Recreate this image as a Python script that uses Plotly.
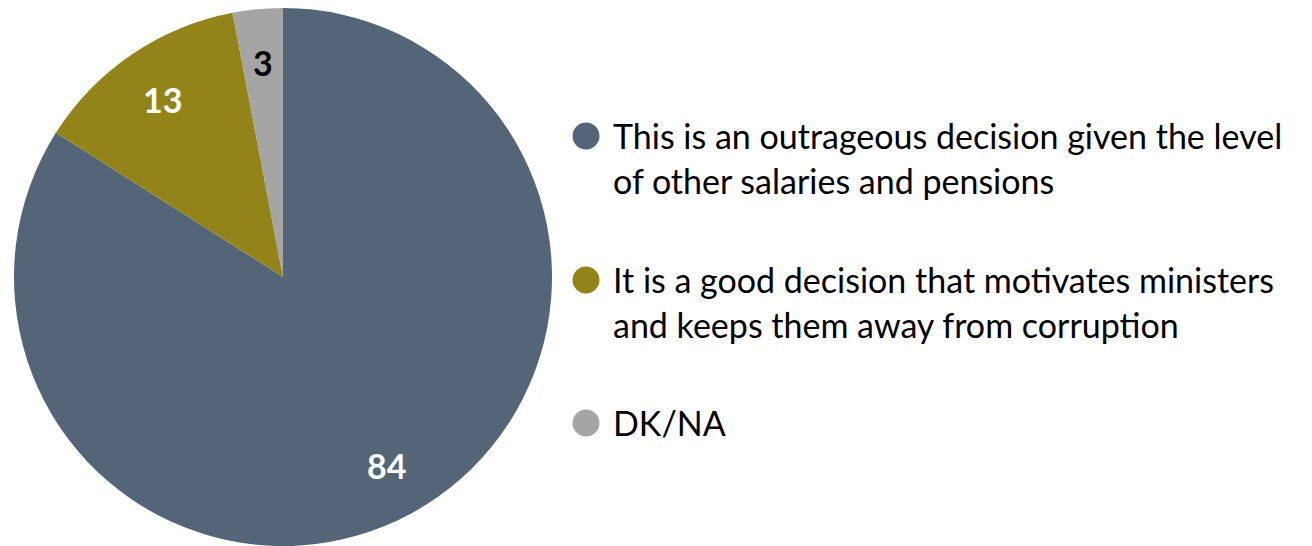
import math
import plotly.graph_objects as go

categories = [
    "This is an outrageous decision given the level of other salaries and pensions",
    "It is a good decision that motivates ministers and keeps them away from corruption",
    "DK/NA",
]
legend_lines = [
    ["This is an outrageous decision given the level", "of other salaries and pensions"],
    ["It is a good decision that motivates ministers", "and keeps them away from corruption"],
    ["DK/NA"],
]
values = [84, 13, 3]
colors = ["#546577", "#93841A", "#A5A5A5"]
label_colors = ["white", "white", "black"]

W, H = 1312, 546
TOP = 8
FONT = "Lato, Carlito, Calibri, sans-serif"

# pie geometry (pixels)
PX0, PX1 = 13, 553
plot_h = H - TOP
R = min(PX1 - PX0, plot_h) / 2
CX = (PX0 + PX1) / 2
CY = TOP + plot_h / 2

fig = go.Figure()
fig.add_trace(go.Pie(
    labels=categories,
    values=values,
    sort=False,
    direction="clockwise",
    rotation=0,
    marker=dict(colors=colors, line=dict(width=0)),
    textinfo="none",
    domain=dict(x=[PX0 / W, PX1 / W], y=[0, 1]),
    showlegend=False,
    hoverinfo="label+value",
))

# legend markers drawn as a scatter on a hidden pixel-mapped axis
marker_y = [136, 280, 423]
fig.add_trace(go.Scatter(
    x=[586] * 3, y=marker_y, mode="markers",
    marker=dict(size=27, color=colors, line=dict(width=0)),
    showlegend=False, hoverinfo="skip",
))

annotations = []
# data labels at 0.8 radius along each slice's mid-angle (clockwise from 12 o'clock)
total = sum(values)
cum = 0
for v, col in zip(values, label_colors):
    mid = (cum + v / 2) / total * 2 * math.pi
    cum += v
    annotations.append(dict(
        x=CX + 0.8 * R * math.sin(mid), y=CY - 0.8 * R * math.cos(mid),
        xref="x", yref="y", text=str(v), showarrow=False,
        xanchor="center", yanchor="middle",
        font=dict(family=FONT, size=34, color=col, weight="bold"),
    ))

line_gap = 45
for i, lines in enumerate(legend_lines):
    for j, ln in enumerate(lines):
        annotations.append(dict(
            x=611, y=marker_y[i] - 1 + j * line_gap, xref="x", yref="y",
            text=ln, showarrow=False, xanchor="left", yanchor="middle",
            font=dict(family=FONT, size=34, color="black"),
        ))

fig.update_layout(
    width=W, height=H,
    margin=dict(l=0, r=0, t=TOP, b=0),
    paper_bgcolor="white", plot_bgcolor="rgba(0,0,0,0)",
    xaxis=dict(range=[0, W], visible=False, fixedrange=True),
    yaxis=dict(range=[H, TOP], visible=False, fixedrange=True),
    annotations=annotations,
)

fig.write_html(
    "out.html",
    config={"displayModeBar": False},
    post_script="document.body.style.margin='0';document.body.style.overflow='hidden';",
)
